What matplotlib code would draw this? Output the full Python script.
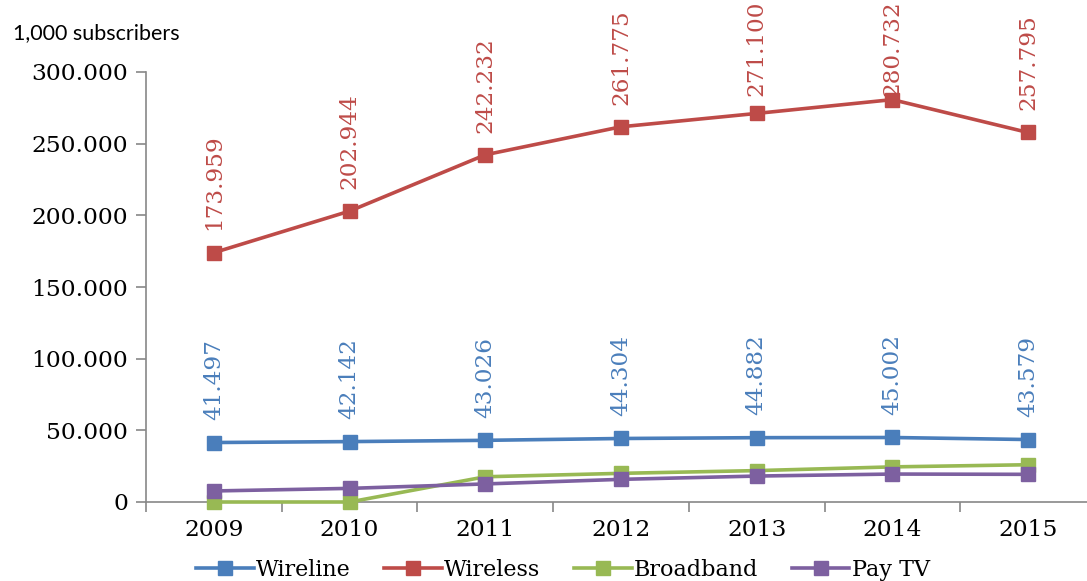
import numpy as np
import matplotlib
matplotlib.use("Agg")
import matplotlib.pyplot as plt

# subscribers, in thousands
years = ["2009", "2010", "2011", "2012", "2013", "2014", "2015"]
wireline = [41497, 42142, 43026, 44304, 44882, 45002, 43579]
wireless = [173959, 202944, 242232, 261775, 271100, 280732, 257795]
broadband = [0, 0, 17600, 20000, 21900, 24500, 26000]
pay_tv = [7700, 9500, 12600, 15800, 18100, 19500, 19300]

series = [
    ("Wireline", wireline, "#4A7EBB", True),
    ("Wireless", wireless, "#BE4B48", True),
    ("Broadband", broadband, "#98B954", False),
    ("Pay TV", pay_tv, "#7D60A0", False),
]

def fmt(v):
    return f"{v:,.0f}".replace(",", ".")

plt.rcParams['font.family'] = ['DejaVu Serif']

fig = plt.figure(figsize=(10.87, 5.81), dpi=100)
ax = fig.add_axes([146/1087, 79/581, (7*135.7)/1087, 430/581])
x = np.arange(len(years))

labels = []
for name, vals, col, show in series:
    ax.plot(x, vals, color=col, lw=2.6, marker="s", ms=9.5, label=name,
            clip_on=False, zorder=3)
    if show:
        for xi, v in zip(x, vals):
            t = ax.annotate(fmt(v), (xi, v), xytext=(0, 16), textcoords="offset points",
                            rotation=90, ha="center", va="bottom", fontsize=16.7,
                            color=col, annotation_clip=False)
            labels.append(t)

ax.set_xlim(-0.5, 6.5)
ax.set_ylim(0, 300000)
ax.set_yticks(np.arange(0, 300001, 50000))
ax.set_yticklabels([fmt(v) for v in np.arange(0, 300001, 50000)])
ax.set_xticks(x)
ax.set_xticklabels(years)
ax.set_xticks(np.arange(-0.5, 6.6, 1), minor=True)
ax.tick_params(axis="x", which="major", length=0, pad=12, labelsize=16.8)
ax.tick_params(axis="x", which="minor", length=7, color="#888888", width=1.2)
ax.tick_params(axis="y", length=7, color="#888888", width=1.2, labelsize=16.8, pad=6)
for s in ["top", "right"]:
    ax.spines[s].set_visible(False)
for s in ["left", "bottom"]:
    ax.spines[s].set_color("#888888")
    ax.spines[s].set_linewidth(1.2)

# keep labels inside the top of the figure, like the original
fig.canvas.draw()
r = fig.canvas.get_renderer()
H = fig.bbox.height
for t in labels:
    bb = t.get_window_extent(r)
    if bb.y1 > H:
        dy = (bb.y1 - H) * 72 / fig.dpi
        ox, oy = t.xyann
        t.xyann = (ox, oy - dy)

fig.text(13/1087, 1 - 33/581, "1,000 subscribers", family="Lato", fontsize=15.5,
         va="center", ha="left")

fig.legend(loc="lower center", bbox_to_anchor=(563/1087, -0.034), ncol=4, frameon=False,
           fontsize=16, handlelength=2.6, columnspacing=1.5, handletextpad=0.1)

fig.savefig("out.png", dpi=100)
